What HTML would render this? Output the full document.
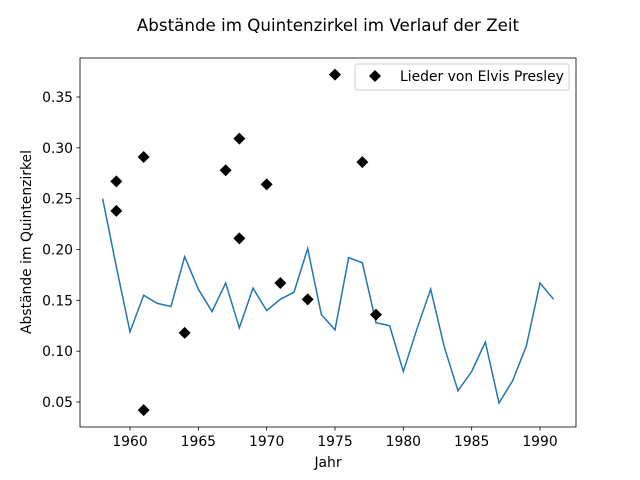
<!DOCTYPE html>
<html><head><meta charset="utf-8"><style>
body{margin:0;background:#fff;}
svg{display:block;font-family:"DejaVu Sans","Liberation Sans",sans-serif;}
</style></head><body>
<svg id="chart" width="640" height="480" viewBox="0 0 640 480">
<rect width="640" height="480" fill="#fff"/>
<text x="328" y="31" font-size="16.7" text-anchor="middle">Abstände im Quintenzirkel im Verlauf der Zeit</text>
<g id="plot"></g>
</svg>
<script>
const years=[1958,1959,1960,1961,1962,1963,1964,1965,1966,1967,1968,1969,1970,1971,1972,1973,1974,1975,1976,1977,1978,1979,1980,1981,1982,1983,1984,1985,1986,1987,1988,1989,1990,1991];
const avgValues=[0.25,0.183,0.119,0.155,0.147,0.144,0.193,0.161,0.139,0.167,0.123,0.162,0.140,0.151,0.158,0.201,0.136,0.121,0.192,0.187,0.128,0.125,0.080,0.122,0.161,0.104,0.061,0.080,0.109,0.049,0.071,0.105,0.167,0.151];
const songYears=[1959,1959,1961,1961,1964,1967,1968,1968,1970,1971,1973,1975,1977,1978];
const songValues=[0.267,0.238,0.291,0.042,0.118,0.278,0.309,0.211,0.264,0.167,0.151,0.372,0.286,0.136];
const xTicks=[1960,1965,1970,1975,1980,1985,1990];
const yTicks=[0.05,0.10,0.15,0.20,0.25,0.30,0.35];
const yTickLabels=["0.05","0.10","0.15","0.20","0.25","0.30","0.35"];
const L=80,R=576,T=58,B=427;
const FS=13.9;
const xs=v=>130+(v-1960)*(410/30);
const ys=v=>402-(v-0.05)*(305/0.3);
const NS="http://www.w3.org/2000/svg";
const g=document.getElementById('plot');
function mk(tag,attrs,parent){const e=document.createElementNS(NS,tag);for(const k in attrs)e.setAttribute(k,attrs[k]);(parent||g).appendChild(e);return e;}
const line=mk('polyline',{points:years.map((y,i)=>xs(y)+','+ys(avgValues[i])).join(' '),fill:'none',stroke:'#1f77b4','stroke-width':1.5});


songYears.forEach((y,i)=>{const cx=xs(y),cy=ys(songValues[i]);
 const m=mk('polygon',{points:`${cx},${cy-6} ${cx+6},${cy} ${cx},${cy+6} ${cx-6},${cy}`,fill:'#000'});
 
 });
const fr=mk('rect',{x:L,y:T,width:R-L,height:B-T,fill:'none',stroke:'#000','stroke-width':0.8});


xTicks.forEach(t=>{const x=xs(t);mk('line',{x1:x,x2:x,y1:B,y2:B+3.5,stroke:'#000','stroke-width':0.8});
 const tx=mk('text',{x:x,y:B+19,'font-size':FS,'text-anchor':'middle'});tx.textContent=t;
 
 });
yTicks.forEach((t,i)=>{const y=ys(t);mk('line',{x1:L-3.5,x2:L,y1:y,y2:y,stroke:'#000','stroke-width':0.8});
 const tx=mk('text',{x:L-7,y:y+5,'font-size':FS,'text-anchor':'end'});tx.textContent=yTickLabels[i];
 
 });
const xl=mk('text',{x:328,y:467,'font-size':FS,'text-anchor':'middle'});xl.textContent='Jahr';


const yl=mk('text',{x:31,y:242,'font-size':FS,'text-anchor':'middle',transform:'rotate(-90 31 242)'});yl.textContent='Abstände im Quintenzirkel';


const lg=mk('g',{});


mk('rect',{x:355,y:64,width:214,height:26,rx:2,fill:'#fff',stroke:'#ccc','stroke-width':1},lg);
mk('polygon',{points:'375,70 381,76 375,82 369,76',fill:'#000'},lg);
const lt=mk('text',{x:400,y:81,'font-size':FS},lg);lt.textContent='Lieder von Elvis Presley';


</script>
</body></html>
